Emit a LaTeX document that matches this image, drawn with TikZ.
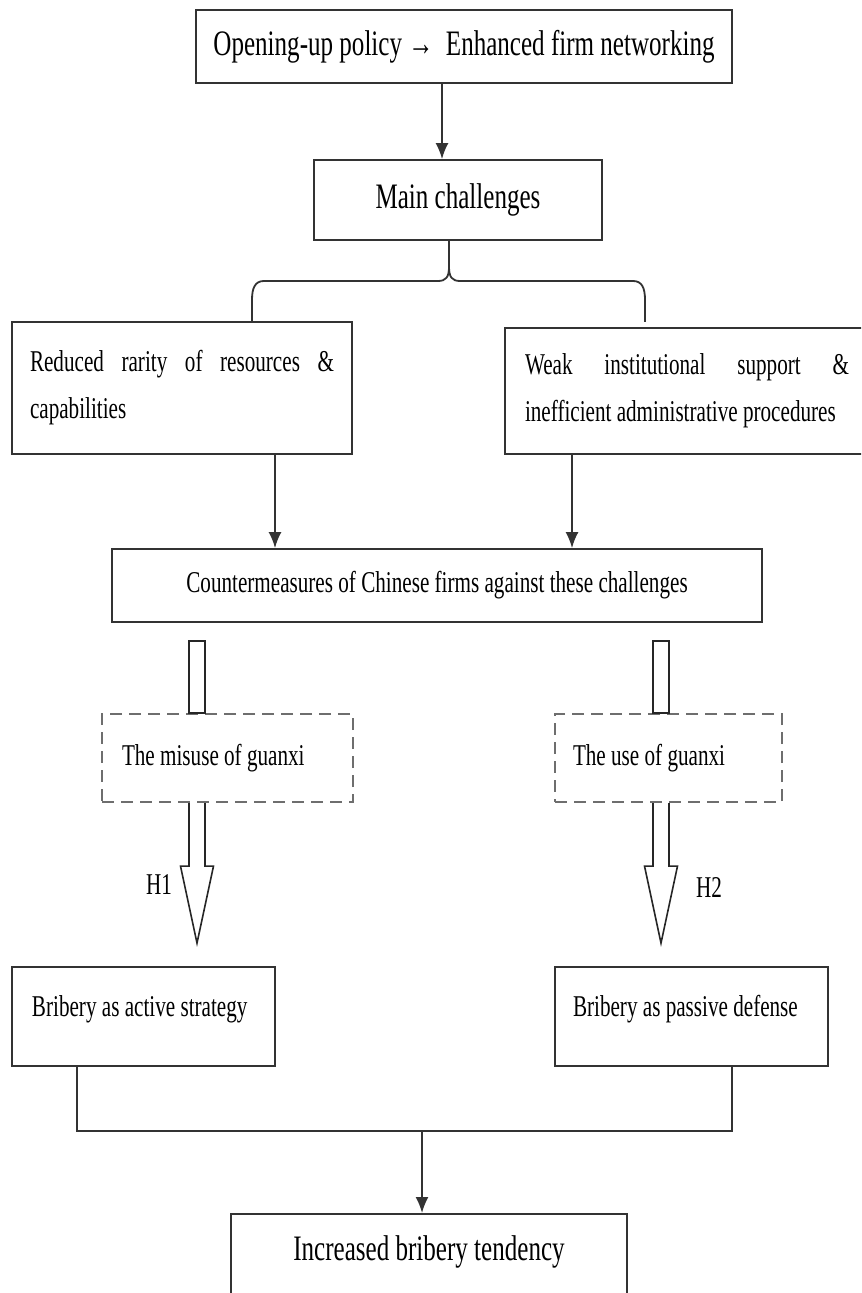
\documentclass[tikz,border=0pt]{standalone}
\usepackage{fontspec}
\setmainfont{Liberation Serif}[FakeStretch=0.7]
\usetikzlibrary{arrows.meta}
\definecolor{lineGray}{HTML}{333333}
\definecolor{dashGray}{HTML}{6E6E6E}
\newcommand{\bigtxt}{\fontsize{17.9}{21}\selectfont}
\newcommand{\smalltxt}{\fontsize{15.1}{23.5}\selectfont}

\begin{document}
\begin{tikzpicture}[x=0.5pt, y=-0.5pt,
    box/.style={draw=lineGray, line width=0.9pt, inner sep=0pt, font=\smalltxt},
    dbox/.style={draw=dashGray, line width=1.1pt, dash pattern=on 6pt off 3.5pt,
      inner xsep=10pt, inner ysep=0pt, font=\smalltxt, align=justify, minimum height=44pt},
    line/.style={lineGray, line width=0.9pt},
    arr/.style={line, -{Latex[length=8pt,width=6.5pt]}},
    hollow/.style={draw=black!85, line width=0.8pt, fill=white}]
  \useasboundingbox (0,0) rectangle (861,1293);
  \clip (0,0) rectangle (861,1293);

  % boxes
  \node[box, font=\bigtxt, minimum width=268pt, minimum height=36.5pt] (open) at (464,46.5)
    {Opening-up policy → \ Enhanced firm networking};
  \node[box, font=\bigtxt, minimum width=144pt, minimum height=40pt] (main) at (458,200)
    {Main challenges};
  \node[box, text width=152pt, inner xsep=9pt, minimum height=66pt, align=justify] (rarity) at (182,388)
    {Reduced rarity of resources \&\linebreak capabilities};
  \node[box, text width=162pt, inner xsep=10pt, minimum height=63pt, align=justify] (weak) at (687,391)
    {Weak institutional support \&\linebreak inefficient administrative procedures};
  \node[box, minimum width=325pt, minimum height=36.5pt] (counter) at (437,585.5)
    {Countermeasures of Chinese firms against these challenges};
  \node[dbox, text width=105.5pt] (misuse) at (227.5,758) {The misuse of guanxi};
  \node[dbox, text width=95.5pt, inner xsep=9pt] (use) at (668.5,758) {The use of guanxi};
  \node[box, text width=111.5pt, inner xsep=10pt, minimum height=49.5pt, align=justify,
    text height=10pt, text depth=10pt] (active) at (143.5,1016.5) {Bribery as active strategy};
  \node[box, text width=118.5pt, inner xsep=9pt, minimum height=49.5pt, align=justify,
    text height=10pt, text depth=10pt] (passive) at (691.5,1016.5) {Bribery as passive defense};
  \node[box, font=\bigtxt, anchor=north, minimum width=198pt, text height=12pt, text depth=40pt,
    inner ysep=11.5pt] (result) at (429,1213) {Increased bribery tendency};
  \node[font=\smalltxt] (h1) at (159,885) {H1};
  \node[font=\smalltxt] (h2) at (709,887) {H2};

  % top arrow and brace
  \draw[arr] ([xshift=-11pt]open.south) -- ([xshift=-8pt]main.north);
  \coordinate (cusp) at ([xshift=-4.5pt,yshift=-13pt]main.south);
  \draw[line] ([xshift=-4.5pt]main.south) -- (cusp);
  \draw[line] (cusp) .. controls (449,277) and (446,281) .. (438,281) -- (264,281)
    .. controls (255,281) and (252,288) .. (252,300) -- ([xshift=35pt]rarity.north);
  \draw[line] (cusp) .. controls (449,277) and (452,281) .. (460,281) -- (633,281)
    .. controls (642,281) and (645,288) .. (645,300) -- (645,322);

  % into countermeasures
  \coordinate (ra) at ([xshift=46.5pt]rarity.south);
  \coordinate (wa) at ([xshift=-57.5pt]weak.south);
  \draw[arr] (ra) -- (ra |- counter.north);
  \draw[arr] (wa) -- (wa |- counter.north);

  % hollow arrows
  \foreach \n/\dx in {misuse/-15.25pt, use/-3.75pt} {
    \coordinate (t) at ([xshift=\dx]\n.north);
    \coordinate (b) at ([xshift=\dx]\n.south);
    \draw[hollow] ([xshift=-4pt,yshift=36pt]t) rectangle ([xshift=4pt]t);
    \draw[hollow] ([xshift=-4pt]b) -- ++(0,63) -- ++(-8.5,0) -- ++(16.5,77)
      -- ++(16.5,-77) -- ++(-8.5,0) -- ++(0,-63);
  }

  % join
  \coordinate (ja) at ([xshift=-33.25pt]active.south);
  \coordinate (jp) at ([xshift=20.25pt]passive.south);
  \coordinate (jm) at (422,1131);
  \draw[line] (ja) |- (jm) -| (jp);
  \draw[arr] (jm) -- (jm |- result.north);
\end{tikzpicture}
\end{document}
